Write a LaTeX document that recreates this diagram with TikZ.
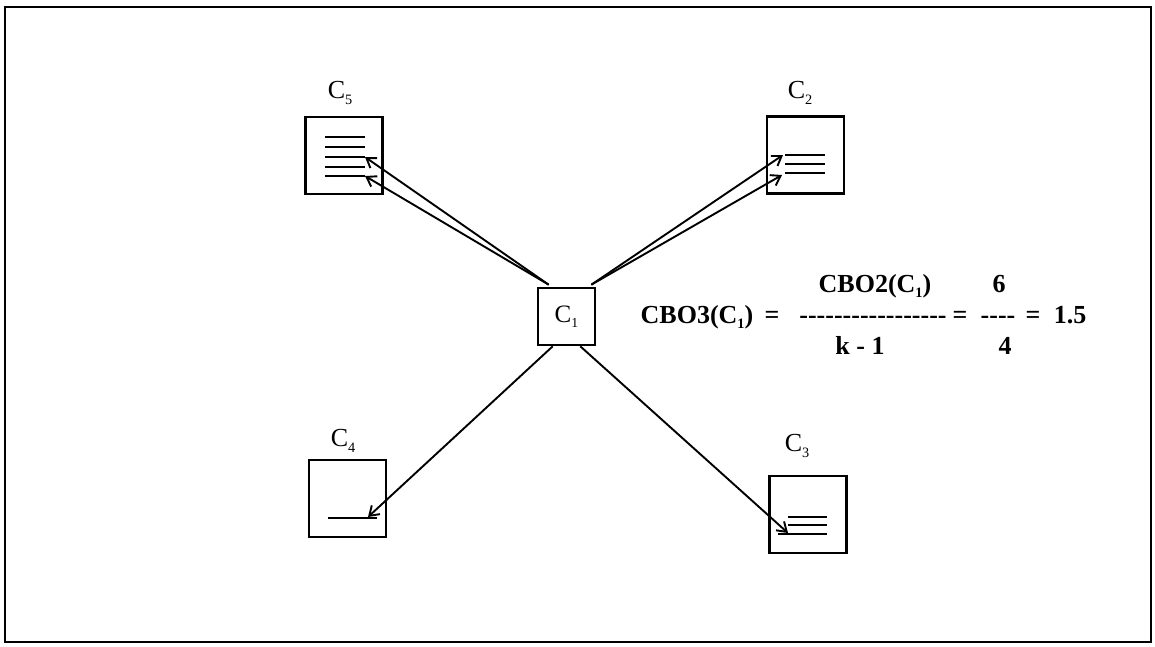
\documentclass[tikz,border=0pt]{standalone}
\usepackage{fontspec}
\setmainfont{Liberation Serif}
\usetikzlibrary{arrows.meta,calc}
\newcommand{\lowsub}[1]{\raisebox{-0.22em}{\scalebox{0.55}{#1}}}
\newcommand{\hyphs}[1]{\foreach \i in {1,...,#1}{-\kern0pt}}
\begin{document}
\begin{tikzpicture}[x=1pt,y=-1pt,
  box/.style={draw, line width=2.6pt, minimum width=77pt, minimum height=77pt, inner sep=0pt},
  cbox/.style={draw, line width=2.6pt, minimum size=57pt, inner sep=0pt, font=\fontsize{25}{25}\selectfont},
  lab/.style={font=\fontsize{26}{26}\selectfont, inner sep=0pt},
  txt/.style={font=\fontsize{26}{26}\selectfont\bfseries, anchor=base, inner sep=0pt},
  ln/.style={line width=2.4pt},
  conn/.style={line width=1.9pt, -{Straight Barb[length=9pt,width=12pt,line width=1.9pt]}}]
\useasboundingbox (0,0) rectangle (1155,646);
\fill[white] (0,0) rectangle (1155,646);
\draw[line width=2.2pt] (5,7) rectangle (1151,642);

% boxes
\node[cbox] (c1) at (566.5,316.5) {C\lowsub{1}};
\node[box] (c5) at (344,155.5) {};
\node[box] (c2) at (805.5,155) {};
\node[box] (c4) at (347.5,498.5) {};
\node[box] (c3) at (808,514.5) {};

% labels
\node[lab] (l5) at (340,93) {C\lowsub{5}};
\node[lab] (l2) at (800,93) {C\lowsub{2}};
\node[lab] (l4) at (343,441) {C\lowsub{4}};
\node[lab] (l3) at (797,446) {C\lowsub{3}};

% inner lines C5
\foreach \yy in {137,147,157,167,176} \draw[ln] (325,\yy) -- (365,\yy);
% inner lines C2
\foreach \yy in {155,164,173} \draw[ln] (785,\yy) -- (825,\yy);
% inner line C4
\draw[ln] (328,518) -- (377,518);
% inner lines C3
\draw[ln] (788,517) -- (827,517);
\draw[ln] (788,525) -- (827,525);
\draw[ln] (778,534) -- (827,534);

% arrow endpoints
\coordinate (s5) at ($(c1.north west)+(12,-2)$);
\coordinate (s2) at ($(c1.north east)+(-5,-2)$);
\coordinate (s4) at ($(c1.south west)+(16,0)$);
\coordinate (s3) at ($(c1.south east)+(-16,0)$);
\coordinate (t5a) at (365,157);
\coordinate (t5b) at (365,176);
\coordinate (t2a) at (783,155);
\coordinate (t2b) at (782,175);
\coordinate (t4) at (368,517);
\coordinate (t3) at (788,533);

\draw[conn] (s5) -- (t5a);
\draw[conn] (s5) -- (t5b);
\draw[conn] (s2) -- (t2a);
\draw[conn] (s2) -- (t2b);
\draw[conn] (s4) -- (t4);
\draw[conn] (s3) -- (t3);

% formula
\node[txt] (lhs) at (697,323) {CBO3(C\lowsub{1})};
\node[txt] (eq1) at (772,323) {=};
\node[txt] (num) at (875,292) {CBO2(C\lowsub{1})};
\node[txt] (bar1) at (873,323) {\hyphs{17}};
\node[txt] (den) at (860,354) {k - 1};
\node[txt] (eq2) at (960,323) {=};
\node[txt] (six) at (999,292) {6};
\node[txt] (bar2) at (998,323) {\hyphs{4}};
\node[txt] (four) at (1005,354) {4};
\node[txt] (eq3) at (1033,323) {=};
\node[txt] (res) at (1070,323) {1.5};
\end{tikzpicture}
\end{document}
